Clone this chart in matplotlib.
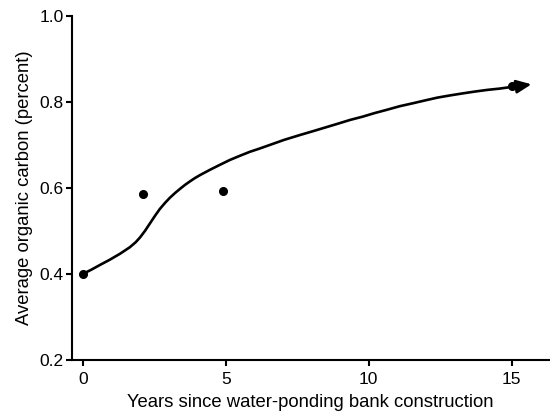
import matplotlib.pyplot as plt

plt.rcParams['font.family'] = ['Liberation Sans', 'DejaVu Sans']

# measured points
years = [0, 2.1, 4.9, 15]
carbon = [0.40, 0.586, 0.593, 0.836]

# fitted trend curve
curve_x = [0, 0.3, 0.6, 0.94, 1.3, 1.64, 1.85, 2.0, 2.17, 2.34, 2.52, 2.69, 2.87,
           3.04, 3.22, 3.4, 3.57, 3.74, 3.92, 4.1, 4.27, 4.44, 4.8, 5.14, 5.5,
           5.84, 6.2, 6.54, 7.05, 7.59, 8.05, 8.5, 8.9, 9.34, 9.8, 10.2, 10.65,
           11.08, 11.55, 12.0, 12.4, 12.83, 13.3, 13.7, 14.15, 14.58, 14.9, 15.2]
curve_y = [0.400, 0.410, 0.421, 0.433, 0.447, 0.462, 0.474, 0.485, 0.500, 0.517,
           0.535, 0.551, 0.565, 0.577, 0.588, 0.598, 0.607, 0.615, 0.623, 0.630,
           0.636, 0.642, 0.654, 0.665, 0.675, 0.684, 0.692, 0.700, 0.712, 0.723,
           0.732, 0.741, 0.749, 0.758, 0.766, 0.774, 0.782, 0.790, 0.797, 0.804,
           0.810, 0.815, 0.820, 0.824, 0.828, 0.831, 0.834, 0.836]
arrow_tip = (15.69, 0.841)

fig = plt.figure(figsize=(5.5, 4.19), dpi=100)
ax = fig.add_axes([0.131, 0.141, 0.867, 0.821])

ax.plot(curve_x, curve_y, color='black', lw=1.9, solid_capstyle='round',
        solid_joinstyle='round')
ax.annotate('', xy=arrow_tip, xytext=(curve_x[-1], curve_y[-1]),
            arrowprops=dict(arrowstyle='-|>,head_length=0.9,head_width=0.4',
                            color='black', lw=1.9, shrinkA=0, shrinkB=0))
ax.plot(years, carbon, 'o', color='black', markersize=5.5)

ax.set_xlim(-0.38, 16.3)
ax.set_ylim(0.2, 1.0)
ax.set_xticks([0, 5, 10, 15])
ax.set_yticks([0.2, 0.4, 0.6, 0.8, 1.0])
ax.set_yticklabels(['0.2', '0.4', '0.6', '0.8', '1.0'])

for s in ['top', 'right']:
    ax.spines[s].set_visible(False)
for s in ['left', 'bottom']:
    ax.spines[s].set_linewidth(1.5)
ax.tick_params(direction='out', length=4, width=1.5, labelsize=12.5, colors='black')
ax.tick_params(axis='x', pad=5)
ax.tick_params(axis='y', pad=2)

ax.set_xlabel('Years since water-ponding bank construction', fontsize=13.3, labelpad=5)
ax.set_ylabel('Average organic carbon (percent)', fontsize=13.3, labelpad=5)

fig.savefig('out.png', dpi=100)
